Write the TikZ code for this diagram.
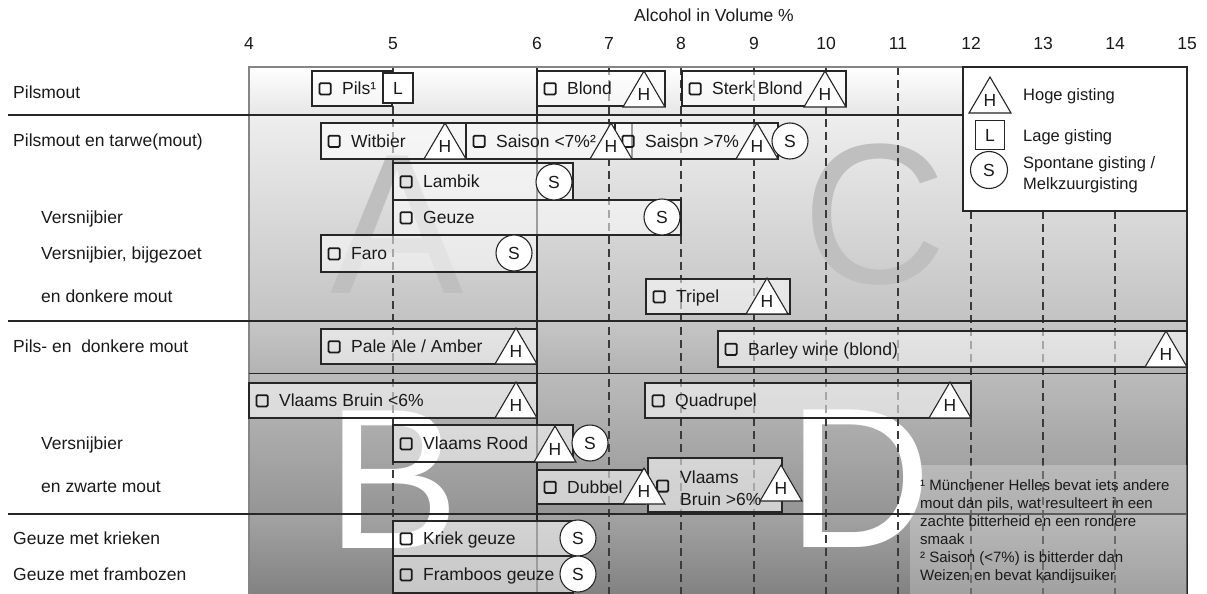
\documentclass[tikz,border=0pt]{standalone}
\usepackage{fontspec}
\setmainfont{Liberation Sans}
\usetikzlibrary{fit,calc}
\definecolor{txt}{HTML}{1A1A1A}
\definecolor{ln}{HTML}{262626}
\definecolor{gridc}{HTML}{3A3A3A}
\definecolor{ltr}{HTML}{BFBFBF}
\definecolor{frm}{HTML}{858585}
\definecolor{b1b}{HTML}{E6E6E6}
\definecolor{b2t}{HTML}{EEEEEE}
\definecolor{b2b}{HTML}{C3C3C3}
\definecolor{b3t}{HTML}{C6C6C6}
\definecolor{b3b}{HTML}{B3B3B3}
\definecolor{b4t}{HTML}{BBBBBB}
\definecolor{b4b}{HTML}{959595}
\definecolor{b5t}{HTML}{A3A3A3}
\definecolor{b5b}{HTML}{828282}
\newcommand\cbx{\tikz[baseline=0pt]\draw[line width=1.8pt,rounded corners=1.2pt,draw=txt] (0pt,0.4pt) rectangle (11.2pt,11.6pt);}
\newcommand\beerbar[6]{%
  \node[barbox, fit={(#2,#3) (#4,#5)}] (#1) {};
  \node[barlbl] (#1-t) at ([xshift=7pt]#1.west) {\cbx\hspace{10.5pt}#6};}
\newcommand\htri[3]{%
  \filldraw[trishape] (#2,#3) -- ({#2-42},#3) -- ({#2-21},{#3-36}) -- cycle;
  \node[hltr] (#1) at ({#2-21},{#3-12.5}) {H};}
\tikzset{
  mainfont/.style={font=\fontsize{17.5}{21}\selectfont, text=txt},
  lbl/.style={anchor=base west, inner sep=0pt, mainfont},
  ticklbl/.style={anchor=base, inner sep=0pt, mainfont},
  barbox/.style={draw=ln, line width=1.1pt, fill=white, fill opacity=0.55, inner sep=0pt},
  barlbl/.style={anchor=west, inner sep=0pt, text height=12.6pt, text depth=0pt, mainfont},
  trishape/.style={draw=ln, fill=white, line width=1.1pt, line join=miter},
  hltr/.style={inner sep=0pt, text height=12.6pt, text depth=0pt, mainfont},
  scirc/.style={circle, draw=ln, fill=white, line width=1.1pt, minimum size=36pt, inner sep=0pt, text height=12.6pt, text depth=0pt, mainfont},
  lsq/.style={rectangle, draw=ln, fill=white, line width=1.1pt, minimum size=30pt, inner sep=0pt, text height=12.6pt, text depth=0pt, mainfont},
  gridln/.style={draw=gridc, line width=1.3pt, dash pattern=on 8pt off 5pt},
  sepln/.style={draw=ln, line width=1.1pt},
  bigltr/.style={anchor=base, inner sep=0pt, font=\fontsize{200}{200}\selectfont},
  legtxt/.style={anchor=base west, inner sep=0pt, font=\fontsize{16.5}{20}\selectfont, text=txt},
  fnote/.style={anchor=base west, inner sep=0pt, font=\fontsize{15}{18}\selectfont, text=txt},
}
\begin{document}
\begin{tikzpicture}[x=1pt,y=-1pt]
\useasboundingbox (0,0) rectangle (1207,594);
\fill[white] (0,0) rectangle (1207,594);
% background bands
\shade[top color=white, bottom color=b1b] (249,67) rectangle (1187,115);
\shade[top color=b2t, bottom color=b2b] (249,115) rectangle (1187,321);
\shade[top color=b3t, bottom color=b3b] (249,321) rectangle (1187,373);
\shade[top color=b4t, bottom color=b4b] (249,373) rectangle (1187,514);
\shade[top color=b5t, bottom color=b5b] (249,514) rectangle (1187,594);
% big letters
\node[bigltr, text=ltr] (bigA) at (397,293) {A};
\node[bigltr, text=ltr] (bigC) at (875,283) {C};
\node[bigltr, text=white] (bigB) at (393,548) {B};
\node[bigltr, text=white] (bigD) at (860,547) {D};
% grid lines
\foreach \x in {393,609,681,754,826,898} \draw[gridln] (\x,67) -- (\x,594);
\foreach \x in {971,1043,1115} \draw[gridln] (\x,211) -- (\x,594);
\draw[ln, line width=1.1pt] (537,67) -- (537,594);
% frame
\draw[frm, line width=1.6pt] (249,594) -- (249,67) -- (963,67);
\draw[ln, line width=1.1pt] (1187,67) -- (1187,594);
% separators
\draw[sepln] (8,115) -- (963,115);
\draw[sepln] (8,321) -- (1187,321);
\draw[sepln] (8,514) -- (1187,514);
\draw[ln, line width=0.9pt] (249,373) -- (1187,373);
% footnote panel
\fill[white, fill opacity=0.25] (910,465) rectangle (1187,594);
% bars
\beerbar{pils}{312}{71}{392}{106}{Pils¹}
\beerbar{blond}{537}{71}{665}{106}{Blond}
\beerbar{sterk}{682}{71}{846}{106}{Sterk Blond}
\beerbar{witbier}{321}{123}{466}{159}{Witbier}
\beerbar{saisonA}{466}{123}{632}{159}{Saison <7\%²}
\beerbar{saisonB}{615}{123}{778}{159}{Saison >7\%}
\beerbar{lambik}{393}{163}{573}{200}{Lambik}
\beerbar{geuze}{393}{200}{681}{235}{Geuze}
\beerbar{faro}{321}{235}{537}{272}{Faro}
\beerbar{tripel}{646}{279}{790}{314}{Tripel}
\beerbar{paleale}{321}{329}{537}{364}{Pale Ale / Amber}
\beerbar{barley}{718}{331}{1187}{367}{Barley wine (blond)}
\beerbar{vbruinA}{249}{383}{537}{418}{Vlaams Bruin <6\%}
\beerbar{quadrupel}{645}{383}{971}{418}{Quadrupel}
\beerbar{vrood}{393}{425}{573}{462}{Vlaams Rood}
\beerbar{dubbel}{537}{470}{645}{504}{Dubbel}
\node[barbox, fit={(648,458) (782,512)}] (vbruinB) {};
\node[anchor=west, inner sep=0pt] (vbruinB-c) at (656,486) {\cbx};
\node[anchor=west, inner sep=0pt, align=left, font=\fontsize{17.5}{22}\selectfont, text=txt] (vbruinB-t) at (680,488) {Vlaams\\Bruin >6\%};
\beerbar{kriek}{393}{521}{573}{556}{Kriek geuze}
\beerbar{framboos}{393}{556}{573}{593}{Framboos geuze}
% fermentation marks
\node[lsq] (pilsL) at (398,88) {L};
\htri{blondH}{665}{107}
\htri{sterkH}{846}{107}
\htri{witbierH}{466}{159}
\htri{saisonBH}{778}{159}
\htri{saisonAH}{632}{159}
\node[scirc] (saisonS) at (790,141) {S};
\node[scirc] (lambikS) at (554,182) {S};
\node[scirc] (geuzeS) at (662,217) {S};
\node[scirc] (faroS) at (514,253) {S};
\htri{tripelH}{788}{314}
\htri{palealeH}{537}{364}
\htri{barleyH}{1187}{367}
\htri{vbruinAH}{537}{418}
\htri{quadrupelH}{971}{418}
\htri{vroodH}{576}{462}
\node[scirc] (vroodS) at (590,443) {S};
\htri{dubbelH}{665}{504}
\htri{vbruinBH}{802}{501}
\node[scirc] (kriekS) at (578,538) {S};
\node[scirc] (frambS) at (578,574) {S};
% legend
\node[draw=ln, line width=1.1pt, fill=white, inner sep=0pt, fit={(963,67) (1187,211)}] (legend) {};
\htri{legH}{1011}{113}
\node[lsq, minimum size=29pt] (legL) at (990,135) {L};
\node[scirc, minimum size=37pt] (legS) at (989,170) {S};
\node[legtxt] (legHt) at (1023,100) {Hoge gisting};
\node[legtxt] (legLt) at (1023,141) {Lage gisting};
\node[legtxt] (legSt1) at (1023,168) {Spontane gisting /};
\node[legtxt] (legSt2) at (1023,189) {Melkzuurgisting};
% footnotes
\node[fnote] (fn1) at (920,490) {¹ Münchener Helles bevat iets andere};
\node[fnote] (fn2) at (920,508) {mout dan pils, wat resulteert in een};
\node[fnote] (fn3) at (920,526) {zachte bitterheid en een rondere};
\node[fnote] (fn4) at (920,544) {smaak};
\node[fnote] (fn5) at (920,562) {² Saison (<7\%) is bitterder dan};
\node[fnote] (fn6) at (920,580) {Weizen en bevat kandijsuiker};
% row labels
\node[lbl] (r1) at (13,99) {Pilsmout};
\node[lbl] (r2) at (13,146) {Pilsmout en tarwe(mout)};
\node[lbl] (r3) at (41,223) {Versnijbier};
\node[lbl] (r4) at (41,259) {Versnijbier, bijgezoet};
\node[lbl] (r5) at (41,302) {en donkere mout};
\node[lbl] (r6) at (13,352) {Pils- en\ \ donkere mout};
\node[lbl] (r7) at (41,449) {Versnijbier};
\node[lbl] (r8) at (41,492) {en zwarte mout};
\node[lbl] (r9) at (13,544) {Geuze met krieken};
\node[lbl] (r10) at (13,580) {Geuze met frambozen};
% axis
\node[ticklbl] (title) at (714,22) {Alcohol in Volume \%};
\foreach \v/\x in {4/249,5/393,6/537,7/609,8/681,9/754,10/826,11/898,12/971,13/1043,14/1115,15/1187}
  \node[ticklbl] (tick\v) at (\x,50) {\v};
\end{tikzpicture}
\end{document}
